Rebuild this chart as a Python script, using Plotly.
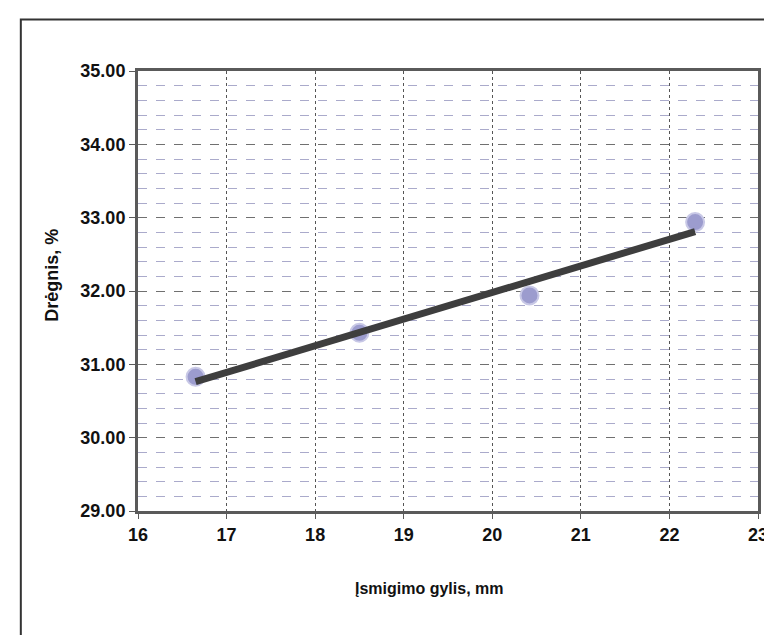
import numpy as np
import plotly.graph_objects as go

# Data
depth_mm = [16.65, 18.5, 20.42, 22.29]
moisture_pct = [30.83, 31.43, 31.94, 32.94]

x_ticks = [16, 17, 18, 19, 20, 21, 22, 23]
y_ticks = [29, 30, 31, 32, 33, 34, 35]

x_title = "Įsmigimo gylis, mm"
y_title = "Drėgnis, %"

# Linear trendline (least squares) from the data
slope, intercept = np.polyfit(depth_mm, moisture_pct, 1)
trend_x = [min(depth_mm), max(depth_mm)]
trend_y = [slope * v + intercept for v in trend_x]

FONT = "Liberation Sans, Arial, sans-serif"

fig = go.Figure()

fig.add_trace(go.Scatter(
    x=depth_mm, y=moisture_pct, mode="markers",
    marker=dict(size=18, color="#9c9cce", line=dict(color="#c8c8e6", width=2)),
    showlegend=False, hoverinfo="x+y",
))
fig.add_trace(go.Scatter(
    x=trend_x, y=trend_y, mode="lines",
    line=dict(color="#3e3e3e", width=7),
    showlegend=False, hoverinfo="skip",
))

fig.update_layout(
    width=772, height=635,
    margin=dict(l=130, r=19, t=63, b=132),
    paper_bgcolor="white", plot_bgcolor="white",
    font=dict(family=FONT, color="#111111"),
    xaxis=dict(
        range=[16, 23], tickvals=x_ticks, ticktext=[str(v) for v in x_ticks],
        tickfont=dict(family=FONT, size=18, color="#111111", weight="bold"),
        showgrid=True, gridcolor="#555555", gridwidth=1, griddash="dot",
        showline=True, linecolor="#5a5a5a", linewidth=3, mirror=True,
        ticks="outside", ticklen=5, tickcolor="#5a5a5a",
        zeroline=False, fixedrange=True,
    ),
    yaxis=dict(
        range=[29, 35], tickvals=y_ticks, tickformat=".2f",
        tickfont=dict(family=FONT, size=18, color="#111111", weight="bold"),
        showgrid=True, gridcolor="#707070", gridwidth=1, griddash="dash",
        minor=dict(dtick=0.2, showgrid=True, gridcolor="#aaaacb", gridwidth=1, griddash="dash"),
        showline=True, linecolor="#5a5a5a", linewidth=3, mirror=True,
        ticks="outside", ticklen=6, tickcolor="#5a5a5a",
        zeroline=False, fixedrange=True,
    ),
    annotations=[
        dict(text="<b>" + x_title + "</b>", xref="paper", yref="paper",
             x=0.47, y=-0.175, xanchor="center", yanchor="middle",
             showarrow=False, font=dict(family=FONT, size=16, color="#111111")),
        dict(text="<b>" + y_title + "</b>", xref="paper", yref="paper",
             x=-0.14, y=0.535, xanchor="center", yanchor="middle", textangle=-90,
             showarrow=False, font=dict(family=FONT, size=18, color="#111111")),
    ],
    shapes=[
        dict(type="rect", xref="paper", yref="paper",
             x0=-0.189, x1=1.03, y0=-0.285, y1=1.117,
             line=dict(color="#333333", width=2), fillcolor="rgba(0,0,0,0)", layer="below"),
    ],
)

fig.write_html("out.html")
